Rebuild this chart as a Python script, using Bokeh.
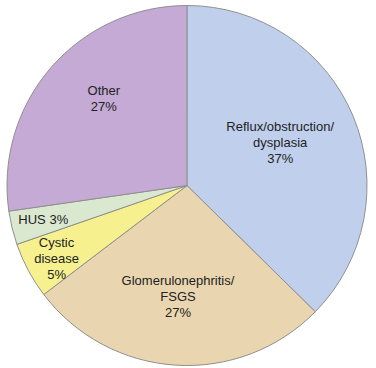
import math
from bokeh.plotting import figure
from bokeh.models import ColumnDataSource, Range1d
from bokeh.core.properties import value
from bokeh.embed import file_html
from bokeh.resources import INLINE

# Data
categories = ["Reflux/obstruction/\ndysplasia", "Glomerulonephritis/\nFSGS", "Cystic\ndisease", "HUS", "Other"]
percents = [37, 27, 5, 3, 27]
label_texts = ["Reflux/obstruction/\ndysplasia\n37%", "Glomerulonephritis/\nFSGS\n27%", "Cystic\ndisease\n5%", "HUS 3%", "Other\n27%"]

# Styles
colors = ["#c0d0ec", "#e9d6b0", "#f6f18e", "#dae8d0", "#c4aad4"]
label_r_frac = [0.57, 0.62, 0.83, 0.82, 0.67]
label_ang_nudge = [-2.0, 1.0, -1.0, 0.5, 5.5]  # degrees, clockwise

W, H = 376, 368
cx, cy, R = 186.5, 183.0, 180.0

total = float(sum(percents))
starts, ends, lx, ly = [], [], [], []
cum = 0.0
for i, v in enumerate(percents):
    a0 = cum / total
    cum += v
    a1 = cum / total
    # clockwise from top -> bokeh anticlock angles
    starts.append(math.pi / 2 - 2 * math.pi * a1)
    ends.append(math.pi / 2 - 2 * math.pi * a0)
    mid = (a0 + a1) / 2 * 360.0 + label_ang_nudge[i]
    th = math.radians(90.0 - mid)
    lx.append(cx + R * label_r_frac[i] * math.cos(th))
    ly.append(cy + R * label_r_frac[i] * math.sin(th))

src = ColumnDataSource(dict(start=starts, end=ends, color=colors,
                            x=[cx] * len(percents), y=[cy] * len(percents)))
lsrc = ColumnDataSource(dict(x=lx, y=ly, text=label_texts))

p = figure(width=W, height=H, output_backend="svg", toolbar_location=None,
           x_range=Range1d(0, W), y_range=Range1d(0, H), min_border=0)
p.axis.visible = False
p.grid.visible = False
p.outline_line_color = None
p.background_fill_color = "white"
p.border_fill_color = "white"

p.wedge(x="x", y="y", radius=R, start_angle="start", end_angle="end",
        fill_color="color", line_color="#8f8f8f", line_width=1, source=src)

p.text(x="x", y="y", text="text", source=lsrc, text_align="center",
       text_baseline="middle", text_font=value("Liberation Sans"),
       text_font_size="13px", text_color="#222222", text_line_height=1.05)

open("out.html", "w").write(file_html(p, INLINE))
